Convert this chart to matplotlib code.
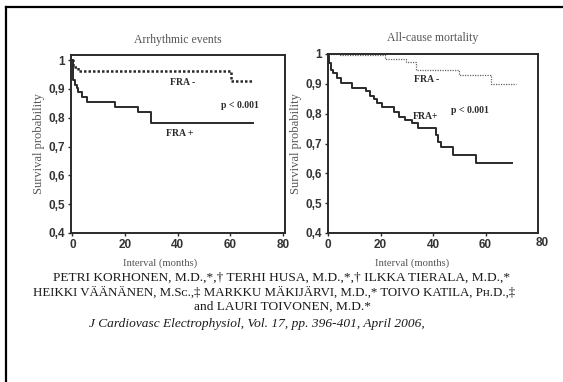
import matplotlib
matplotlib.use("Agg")
import matplotlib.pyplot as plt
from matplotlib.lines import Line2D

# ---- data ----
# Arrhythmic events
arr_pos_t = [0, 0.15, 0.3, 1.0, 1.6, 2.2, 3.5, 5.4, 16.2, 24.8, 29.8, 68.6]
arr_pos_s = [1.0, 0.96, 0.931, 0.914, 0.902, 0.891, 0.873, 0.856, 0.839, 0.82, 0.783, 0.783]
arr_neg_t = [0, 0.3, 2.0, 60.3, 68.6]
arr_neg_s = [1.0, 0.975, 0.964, 0.929, 0.929]

# All-cause mortality
mort_pos_t = [0, 0.5, 1.2, 2.0, 3.5, 5.0, 9.0, 14.5, 16.0, 17.5, 18.5, 20.5, 25.3, 27.0,
              29.5, 32.0, 34.3, 41.0, 42.0, 43.0, 47.5, 56.5, 70.0]
mort_pos_s = [1.0, 0.97, 0.947, 0.936, 0.919, 0.902, 0.886, 0.875, 0.859, 0.848, 0.836,
              0.824, 0.807, 0.79, 0.779, 0.768, 0.751, 0.729, 0.706, 0.689, 0.661, 0.633, 0.633]
mort_neg_t = [0, 4.0, 21.7, 29.6, 33.5, 50.0, 62.0, 71.5]
mort_neg_s = [1.0, 0.995, 0.983, 0.972, 0.947, 0.93, 0.9, 0.9]

xticks = [0, 20, 40, 60, 80]
yticks = [0.4, 0.5, 0.6, 0.7, 0.8, 0.9, 1.0]
ytick_labels = ["0,4", "0,5", "0,6", "0,7", "0,8", "0,9", "1"]

titles = ["Arrhythmic events", "All-cause mortality"]
ylabel = "Survival probability"
xlabel = "Interval (months)"

authors = ["PETRI KORHONEN, M.D.,*,\u2020 TERHI HUSA, M.D.,*,\u2020 ILKKA TIERALA, M.D.,*",
           "HEIKKI V\u00c4\u00c4N\u00c4NEN, M.S\u1d04.,\u2021 MARKKU M\u00c4KIJ\u00c4RVI, M.D.,* TOIVO KATILA, P\u029c.D.,\u2021",
           "and LAURI TOIVONEN, M.D.*"]
citation = "J Cardiovasc Electrophysiol, Vol. 17, pp. 396-401, April 2006,"

SERIF = ["Liberation Serif", "DejaVu Serif"]
SANS = ["Liberation Sans", "DejaVu Sans"]
DARK = "#2a2a2a"
GREY = "#555555"

fig = plt.figure(figsize=(5.63, 3.82), dpi=100)
fig.patch.set_facecolor("white")

W, H = 563.0, 382.0
def fx(px):
    return px / W
def fy(py):
    return 1 - py / H

ax1 = fig.add_axes([fx(71), fy(233), fx(285) - fx(71), (233 - 55) / H])
ax2 = fig.add_axes([fx(328), fy(233), fx(538) - fx(328), (233 - 54) / H])

def style(ax, title, ylim, xlim, lab_x):
    ax.set_xlim(*xlim)
    ax.set_ylim(*ylim)
    ax.set_xticks(xticks)
    ax.set_xticklabels([str(v) for v in xticks], family=SANS, fontsize=8.5,
                       color="#333333", fontweight="bold")
    ax.set_yticks(yticks)
    ax.set_yticklabels(ytick_labels, family=SANS, fontsize=8.5, color="#333333",
                       fontweight="bold")
    ax.tick_params(axis="both", length=2.5, width=1, color=DARK, pad=2)
    for sp in ax.spines.values():
        sp.set_linewidth(1.4)
        sp.set_color(DARK)
    ax.set_title(title, family=SERIF, fontsize=8.5, color=GREY, pad=9)
    ax.set_ylabel(ylabel, family=SERIF, fontsize=9, color=GREY, labelpad=2.5)
    ax.set_xlabel(xlabel, family=SERIF, fontsize=7.7, color=GREY)
    ax.xaxis.set_label_coords(lab_x, -0.14)

# left panel
ax1.step(arr_pos_t, arr_pos_s, where="post", color=DARK, lw=1.4)
ax1.step(arr_neg_t, arr_neg_s, where="post", color=DARK, lw=1.8, linestyle=(0, (1, 0.8)))
ax1.text(42, 0.924, "FRA -", family=SERIF, fontsize=7, fontweight="bold", color=DARK,
         ha="center", va="center")
ax1.text(63.5, 0.841, "p < 0.001", family=SERIF, fontsize=7, fontweight="bold", color=DARK,
         ha="center", va="center")
ax1.text(41, 0.744, "FRA +", family=SERIF, fontsize=7, fontweight="bold", color=DARK,
         ha="center", va="center")
style(ax1, titles[0], (0.4, 1.018), (-0.5, 80.8), 0.416)

# right panel
ax2.step(mort_pos_t, mort_pos_s, where="post", color=DARK, lw=1.4)
ax2.step(mort_neg_t, mort_neg_s, where="post", color="#666666", lw=0.9, linestyle=(0, (1, 1)))
ax2.text(37.6, 0.914, "FRA -", family=SERIF, fontsize=7, fontweight="bold", color=DARK,
         ha="center", va="center")
ax2.text(54, 0.812, "p < 0.001", family=SERIF, fontsize=7, fontweight="bold", color=DARK,
         ha="center", va="center")
ax2.text(37.3, 0.79, "FRA+", family=SERIF, fontsize=7, fontweight="bold", color=DARK,
         ha="center", va="center")
style(ax2, titles[1], (0.4, 1.0), (0, 78), 0.40)
ax2.set_xticks(xticks[:-1])
ax2.set_xticklabels([str(v) for v in xticks[:-1]], family=SANS, fontsize=8.5,
                    color="#333333", fontweight="bold")
fig.text(fx(542), fy(243), str(xticks[-1]), family=SANS, fontsize=8.5, color="#333333",
         fontweight="bold", ha="center", va="center")

# author text
for line, px, py, fs in zip(authors, [282, 274, 282], [278, 292.5, 307], [9.6, 9.25, 9.6]):
    fig.text(fx(px), fy(py), line, family=SERIF, fontsize=fs, color="#1a1a1a",
             ha="center", va="center")
fig.text(fx(257), fy(324), citation, family=SERIF, fontsize=9.6, style="italic",
         color="#1a1a1a", ha="center", va="center")

# frame lines
fig.add_artist(Line2D([fx(6), fx(6)], [fy(7), 0], transform=fig.transFigure,
                      color="black", lw=1.6))
fig.add_artist(Line2D([fx(6), 1], [fy(7), fy(7)], transform=fig.transFigure,
                      color="black", lw=1.6))

fig.savefig("out.png", dpi=100, facecolor="white")
